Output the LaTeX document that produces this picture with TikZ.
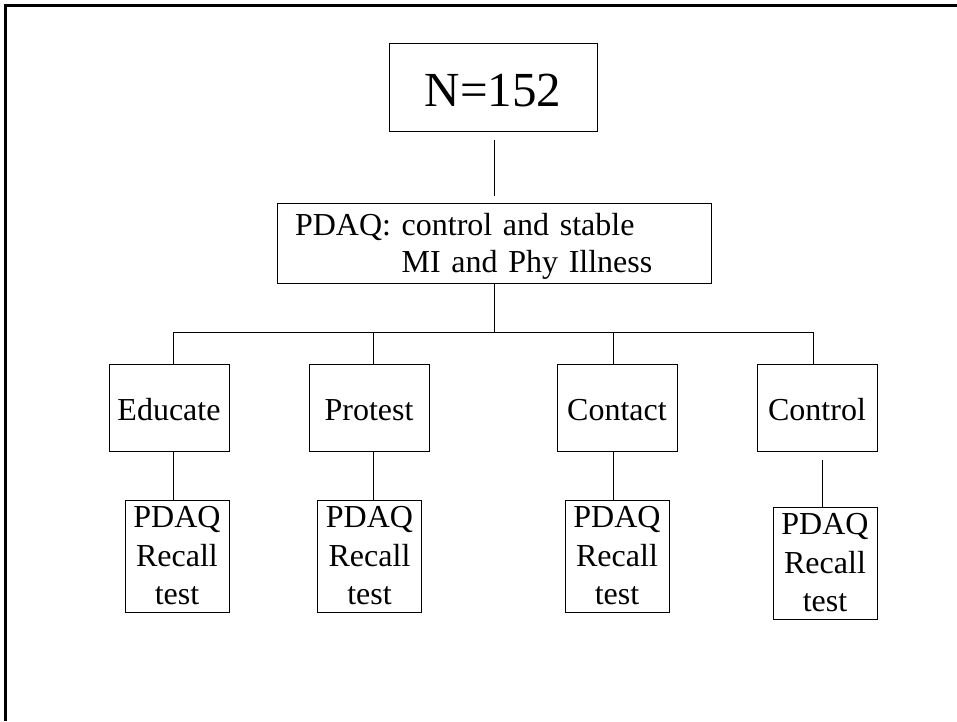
\documentclass[tikz,border=0pt]{standalone}
\usepackage{fontspec}
\setmainfont{Liberation Serif}
\begin{document}
\begin{tikzpicture}[x=1pt,y=-1pt,
  box/.style={draw, line width=1pt, inner sep=0pt, align=center, font=\fontsize{32}{38.5}\selectfont},
  midbox/.style={box, minimum width=120pt, minimum height=87pt, text height=28pt, text depth=3pt},
  testbox/.style={box, minimum width=104pt, minimum height=112pt},
  link/.style={line width=1pt}]
\useasboundingbox (0,0) rectangle (957,721);
\draw[line width=3pt] (5.5,721) -- (5.5,5.5) -- (957,5.5);
\node[box, minimum width=208pt, minimum height=88pt, text height=40pt, text depth=2pt, font=\fontsize{49}{58}\selectfont] (n) at (493,87) {N=152};
\node[box, minimum width=434pt, minimum height=80pt, text width=398pt, align=left, font=\fontsize{32}{37}\selectfont] (pd) at (494,243) {\rule{0pt}{28pt}PDAQ: control and stable\\\hphantom{PDAQ: }MI and Phy Illness};
\node[midbox] (edu) at (169,407.5) {Educate};
\node[midbox] (pro) at (369,407.5) {Protest};
\node[midbox] (con) at (617,407.5) {Contact};
\node[midbox] (ctl) at (817,407.5) {Control};
\node[testbox] (r1) at (177,556) {PDAQ\\Recall\\test};
\node[testbox] (r2) at (369.5,556) {PDAQ\\Recall\\test};
\node[testbox] (r3) at (617,556) {PDAQ\\Recall\\test};
\node[testbox] (r4) at (825,563) {PDAQ\\Recall\\test};
\coordinate (jb) at (494,332);
\coordinate (j1) at (173,332);
\coordinate (j2) at (373,332);
\coordinate (j3) at (613,332);
\coordinate (j4) at (813,332);
\coordinate (k4) at (822,332);
\draw[link, shorten <=8pt, shorten >=7pt] (n.south -| jb) -- (pd.north -| jb);
\draw[link] (pd.south -| jb) -- (jb);
\draw[link] (j1) -- (j4);
\draw[link] (j1) -- (j1 |- edu.north);
\draw[link] (j2) -- (j2 |- pro.north);
\draw[link] (j3) -- (j3 |- con.north);
\draw[link] (j4) -- (j4 |- ctl.north);
\draw[link] (edu.south -| j1) -- (r1.north -| j1);
\draw[link] (pro.south -| j2) -- (r2.north -| j2);
\draw[link] (con.south -| j3) -- (r3.north -| j3);
\draw[link, shorten <=8pt] (ctl.south -| k4) -- (r4.north -| k4);
\end{tikzpicture}
\end{document}
